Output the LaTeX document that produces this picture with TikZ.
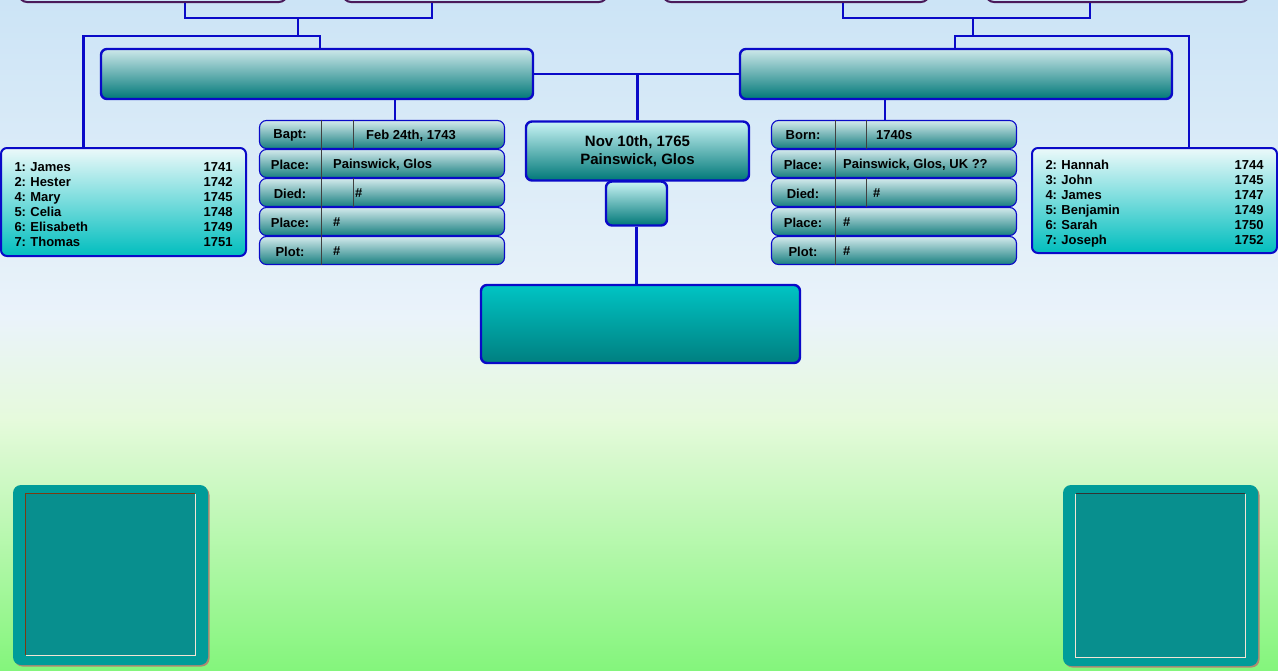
\documentclass[tikz,border=0pt]{standalone}
\usepackage{fontspec}
\setmainfont{Liberation Sans}
\usetikzlibrary{positioning}
\definecolor{linkblue}{HTML}{0A0AC8}
\definecolor{gpline}{HTML}{4A1A5A}
\definecolor{skytop}{HTML}{CCE4F6}
\definecolor{skymid}{HTML}{EAF3FA}
\definecolor{haze}{HTML}{E6FADC}
\definecolor{grass}{HTML}{84F57C}
\definecolor{parenttop}{HTML}{CDE8EA}
\definecolor{parentbot}{HTML}{007878}
\definecolor{sibtop}{HTML}{ECF9FA}
\definecolor{sibbot}{HTML}{00BEBE}
\definecolor{rowtop}{HTML}{D3EAEC}
\definecolor{rowbot}{HTML}{187F80}
\definecolor{childtop}{HTML}{00C4C4}
\definecolor{childbot}{HTML}{007F80}
\definecolor{frameteal}{HTML}{009C99}
\definecolor{phototeal}{HTML}{088F8E}
\definecolor{framedark}{HTML}{7A3A12}
\definecolor{framelight}{HTML}{F2E4D4}
\tikzset{
  link/.style={draw=linkblue, line width=2.4pt},
  gpbox/.style={draw=gpline, line width=2pt, rounded corners=8pt, minimum height=40pt},
  parentbox/.style={draw=linkblue, line width=2.4pt, rounded corners=6pt, top color=parenttop, bottom color=parentbot, minimum width=432pt, minimum height=50pt},
  sibbox/.style={draw=linkblue, line width=2pt, rounded corners=6pt, top color=sibtop, bottom color=sibbot, minimum width=245pt},
  sibtext/.style={text width=218pt, align=left, inner sep=0pt, font=\fontsize{13}{15}\selectfont\bfseries\frenchspacing},
  rowbox/.style={draw=linkblue, line width=1.1pt, rounded corners=7pt, top color=rowtop, bottom color=rowbot, minimum width=245pt, minimum height=28pt},
  rowtext/.style={inner sep=0pt, font=\fontsize{13}{15}\selectfont\bfseries},
  sepline/.style={draw=black!75, line width=0.8pt},
  eventbox/.style={draw=linkblue, line width=2.4pt, rounded corners=6pt, top color=parenttop!80!cyan!60!white, bottom color=parentbot, minimum width=223pt, minimum height=59pt, align=center, font=\fontsize{15}{18}\selectfont\bfseries},
  photoframe/.style={fill=frameteal, rounded corners=8pt, minimum width=195pt, minimum height=180pt}
}
\begin{document}
\begin{tikzpicture}[x=1pt, y=-1pt]
  \useasboundingbox (0,0) rectangle (1278,670);
  \clip (0,0) rectangle (1278,670);

  % sky and grass
  \fill[top color=skytop, bottom color=skymid] (0,0) rectangle (1278,320);
  \fill[top color=skymid, bottom color=haze] (0,319) rectangle (1278,420);
  \fill[top color=haze, bottom color=grass] (0,419) rectangle (1278,670);

  % grandparents, cut off at the top
  \node[gpbox, minimum width=268pt] (gp1) at (153,-18) {};
  \node[gpbox, minimum width=264pt] (gp2) at (475,-18) {};
  \node[gpbox, minimum width=266pt] (gp3) at (796,-18) {};
  \node[gpbox, minimum width=263pt] (gp4) at (1117.5,-18) {};

  % parents
  \node[parentbox] (father) at (317,74) {};
  \node[parentbox] (mother) at (956,74) {};

  % siblings
  \node[sibbox, minimum height=108pt] (sibsL) at (123.5,202) {};
  \node[sibtext] (sibsLtext) at (123.5,205) {%
    1: James\hfill 1741\\2: Hester\hfill 1742\\4: Mary\hfill 1745\\%
    5: Celia\hfill 1748\\6: Elisabeth\hfill 1749\\7: Thomas\hfill 1751};
  \node[sibbox, minimum height=105pt] (sibsR) at (1154.5,200.5) {};
  \node[sibtext] (sibsRtext) at (1154.5,204) {%
    2: Hannah\hfill 1744\\3: John\hfill 1745\\4: James\hfill 1747\\%
    5: Benjamin\hfill 1749\\6: Sarah\hfill 1750\\7: Joseph\hfill 1752};

  % father's facts
  \foreach \nm/\lab/\val/\vx [count=\i from 0] in {bapt/Bapt:/{Feb 24th, 1743}/366, place/Place:/{Painswick, Glos}/333, died/Died:/\#/355, dplace/Place:/\#/333, plot/Plot:/\#/333} {
    \node[rowbox] (f\nm) at (382,134.5+29*\i) {};
    \node[rowtext] (f\nm lab) at (290,135.5+29*\i) {\lab};
    \node[rowtext, anchor=west] (f\nm val) at (\vx,135.5+29*\i) {\val};
    \draw[sepline] (f\nm.north -| 321,0) -- (f\nm.south -| 321,0);
  }
  \draw[sepline] (fbapt.north -| 353,0) -- (fbapt.south -| 353,0);
  \draw[sepline] (fdied.north -| 353,0) -- (fdied.south -| 353,0);

  % mother's facts
  \foreach \nm/\lab/\val/\vx [count=\i from 0] in {born/Born:/1740s/876, place/Place:/{Painswick, Glos, UK ??}/843, died/Died:/\#/873, dplace/Place:/\#/843, plot/Plot:/\#/843} {
    \node[rowbox] (m\nm) at (894,134.5+29*\i) {};
    \node[rowtext] (m\nm lab) at (803,135.5+29*\i) {\lab};
    \node[rowtext, anchor=west] (m\nm val) at (\vx,135.5+29*\i) {\val};
    \draw[sepline] (m\nm.north -| 835,0) -- (m\nm.south -| 835,0);
  }
  \draw[sepline] (mborn.north -| 866,0) -- (mborn.south -| 866,0);
  \draw[sepline] (mdied.north -| 866,0) -- (mdied.south -| 866,0);

  % marriage and child
  \node[eventbox, minimum width=61pt, minimum height=44pt] (evsmall) at (636.5,203.5) {};
  \node[eventbox] (event) at (637.5,151) {Nov 10th, 1765\\Painswick, Glos};
  \node[eventbox, top color=childtop, bottom color=childbot, minimum width=319pt, minimum height=78pt] (child) at (640.5,324) {};

  % connectors
  \coordinate (fjoin) at (298,18);
  \coordinate (fbar) at (298,36);
  \coordinate (mjoin) at (973,18);
  \coordinate (mbar) at (973,36);
  \draw[link] ([xshift=32]gp1.south) |- (fjoin) -| ([xshift=-43]gp2.south);
  \draw[link] (fjoin) -- (fbar);
  \draw[link] ([xshift=-40]sibsL.north) |- (fbar) -| ([xshift=3]father.north);
  \draw[link] ([xshift=47]gp3.south) |- (mjoin) -| ([xshift=-27.5]gp4.south);
  \draw[link] (mjoin) -- (mbar);
  \draw[link] ([xshift=34.5]sibsR.north) |- (mbar) -| ([xshift=-1]mother.north);
  \draw[link] (father.east) -- (mother.west);
  \draw[link] (event.north) -- (event.north |- father.east);
  \draw[link] ([xshift=78]father.south) -- ([xshift=78]father.south |- fbapt.north);
  \draw[link] ([xshift=-71]mother.south) -- ([xshift=-71]mother.south |- mborn.north);
  \draw[link] (evsmall.south) -- (evsmall.south |- child.north);

  % photo frames
  \fill[framedark!60, rounded corners=8pt] (14.5,487) rectangle (209.5,666.5);
  \node[photoframe] (photoL) at (110.5,575) {};
  \node[fill=phototeal, minimum width=169pt, minimum height=161pt, inner sep=0pt] (picL) at (110.5,574.5) {};
  \draw[framedark, line width=1.2pt] (picL.south west) -- (picL.north west) -- (picL.north east);
  \draw[framelight, line width=1.2pt] (picL.north east) -- (picL.south east) -- (picL.south west);
  \fill[framedark!60, rounded corners=8pt] (1064.5,487) rectangle (1259.5,667.5);
  \node[photoframe, minimum height=181pt] (photoR) at (1160.5,575.5) {};
  \node[fill=phototeal, minimum width=169pt, minimum height=163pt, inner sep=0pt] (picR) at (1160.5,575.5) {};
  \draw[black!80, line width=1.2pt] (picR.north west) -- (picR.north east);
  \draw[framelight, line width=1.2pt] (picR.north east) -- (picR.south east) -- (picR.south west) -- (picR.north west);
\end{tikzpicture}
\end{document}
